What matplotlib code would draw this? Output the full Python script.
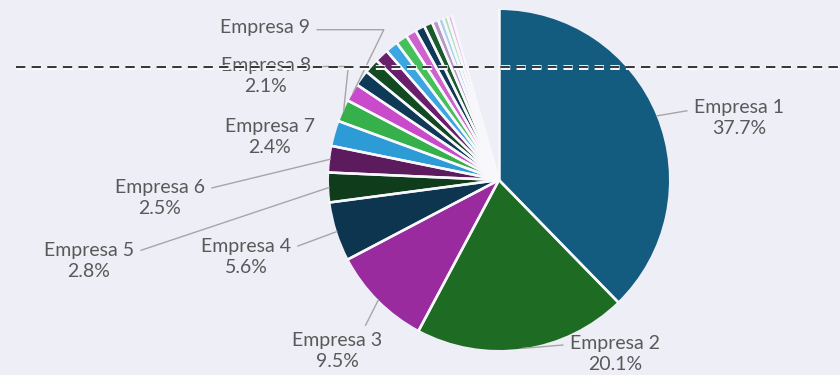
import matplotlib
matplotlib.use("Agg")
import matplotlib.pyplot as plt
import matplotlib.patheffects as pe
import numpy as np

# ---- data ----
companies = [f"Empresa {i}" for i in range(1, 22)]
shares = [37.7, 20.1, 9.5, 5.6, 2.8, 2.5, 2.4, 2.1, 1.7, 1.5, 1.4, 1.3, 1.2,
          1.1, 1.0, 0.9, 0.8, 0.6, 0.5, 0.45, 0.4]
pct_labels = ["37.7%", "20.1%", "9.5%", "5.6%", "2.8%", "2.5%", "2.4%", "2.1%", ""]

colors = ["#145b80", "#1e6b23", "#9a2b9f", "#0d3550", "#0f3d1c", "#5b1b5d",
          "#2d9bd6", "#35b04b", "#c94bcb", "#0e3a58", "#124a22", "#6a1f6b",
          "#3ba6e0", "#45c05b", "#d062d0", "#0e3a58", "#1b5a2a",
          "#b898c4", "#a8d2f0", "#b2e0ba", "#e8b8e8"]

BG = "#eeeef6"
EDGE = "#f8f8fc"
TXT = "#595959"
LINE = "#a6a6a6"

W, H = 840, 375
fig = plt.figure(figsize=(W / 100, H / 100), dpi=100)
fig.patch.set_facecolor(BG)
ax = fig.add_axes([0, 0, 1, 1])
ax.set_facecolor(BG)

cx, cy, R = 499, H - 180, 170
wedges, _ = ax.pie(np.array(shares) / 100.0, colors=colors, startangle=90,
                   counterclock=False, center=(cx, cy), radius=R,
                   normalize=False, frame=True,
                   wedgeprops=dict(linewidth=0))
ax.set_xlim(0, W)
ax.set_ylim(0, H)
ax.set_aspect("equal")
ax.axis("off")

# radial separators between slices
for w in wedges:
    for ang in (w.theta1, w.theta2):
        a = np.deg2rad(ang)
        ax.plot([cx, cx + R * 1.01 * np.cos(a)], [cy, cy + R * 1.01 * np.sin(a)],
                color=EDGE, lw=1.8, solid_capstyle="butt", zorder=2)

layout = [
    ((739, 118), (0, 0.72), "arc3"),
    ((615, 354), (0, 0.75), "arc3"),
    ((337, 351), (0.78, 1.0), "arc3"),
    ((246, 257), (1, 0.72), "arc3"),
    ((89, 261), (1, 0.72), "arc3"),
    ((160, 198), (1, 0.72), "arc3"),
    ((270, 137), None, None),
    ((266, 76), (1, 0.75), "angle,angleA=0,angleB=84,rad=0"),
    ((265, 28), (1, 0.4), "angle,angleA=0,angleB=64,rad=0"),
]

fp = dict(family=["Lato", "DejaVu Sans"], fontsize=14, color=TXT)
for i, ((tx, ty), rel, conn) in enumerate(layout):
    w = wedges[i]
    th = np.deg2rad((w.theta1 + w.theta2) / 2)
    px, py = cx + R * np.cos(th), cy + R * np.sin(th)
    label = companies[i] + ("\n" + pct_labels[i] if pct_labels[i] else "")
    if rel is None:
        ax.text(tx, H - ty, label, ha="center", va="center",
                linespacing=1.3, zorder=4, **fp)
    else:
        ax.annotate(label, xy=(px, py), xytext=(tx, H - ty),
                    ha="center", va="center", linespacing=1.3, zorder=4,
                    arrowprops=dict(arrowstyle="-", color=LINE, lw=1.0,
                                    shrinkA=3, shrinkB=0, relpos=rel,
                                    connectionstyle=conn),
                    **fp)

ax.plot([16, W], [H - 67, H - 67], color="#3a3a3a", lw=1.5,
        dashes=(4.5, 3.0), zorder=6, solid_capstyle="butt",
        path_effects=[pe.Stroke(linewidth=3.5, foreground="white"), pe.Normal()])

fig.savefig("out.png", dpi=100, facecolor=BG)
